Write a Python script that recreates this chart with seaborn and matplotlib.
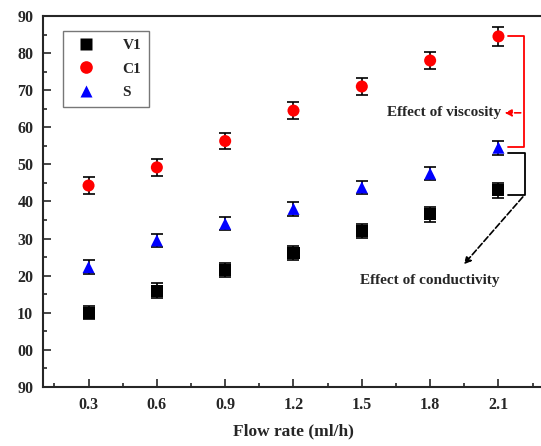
import numpy as np
import pandas as pd
import matplotlib
matplotlib.use("Agg")
import matplotlib.pyplot as plt
import seaborn as sns

flow = [0.3, 0.6, 0.9, 1.2, 1.5, 1.8, 2.1]
v1 = [10.0, 16.0, 21.5, 26.0, 32.0, 36.5, 43.0]
c1 = [44.3, 49.2, 56.3, 64.5, 71.0, 78.0, 84.5]
s = [22.3, 29.5, 34.0, 38.0, 43.8, 47.5, 54.5]
v1_err = [1.7, 1.9, 1.9, 1.9, 1.9, 1.9, 2.1]
c1_err = [2.2, 2.2, 2.2, 2.3, 2.3, 2.4, 2.5]
s_err = [1.8, 1.8, 1.8, 1.8, 1.8, 1.8, 1.9]
ytick_vals = [-10, 0, 10, 20, 30, 40, 50, 60, 70, 80, 90]
ytick_labels = ["90", "00", "10", "20", "30", "40", "50", "60", "70", "80", "90"]
xtick_labels = ["0.3", "0.6", "0.9", "1.2", "1.5", "1.8", "2.1"]

sns.set_style("ticks")
plt.rcParams['font.family'] = ['Liberation Serif', 'DejaVu Serif']
plt.rcParams['font.weight'] = 'bold'

df = pd.DataFrame({
    'flow': flow * 3,
    'val': v1 + c1 + s,
    'err': v1_err + c1_err + s_err,
    'series': ['V1'] * 7 + ['C1'] * 7 + ['S'] * 7,
})

fig = plt.figure(figsize=(5.41, 4.46), dpi=100)
ax = fig.add_axes([43 / 541, 1 - 387 / 446, (544 - 43) / 541, (387 - 16) / 446])

ax.errorbar(df['flow'], df['val'], yerr=df['err'], fmt='none', ecolor='black',
            elinewidth=1.2, capsize=4, capthick=1.2, zorder=2)
sns.scatterplot(data=df, x='flow', y='val', hue='series', style='series',
                palette={'V1': 'black', 'C1': 'red', 'S': 'blue'},
                markers={'V1': 's', 'C1': 'o', 'S': '^'},
                s=75, edgecolor='none', ax=ax, zorder=3)

ax.set_xlim(0.1, 2.3)
ax.set_ylim(-10, 90)
ax.set_xticks(flow)
ax.set_xticklabels(xtick_labels)
ax.set_xticks(np.arange(0.15, 2.3, 0.3), minor=True)
ax.set_yticks(ytick_vals)
ax.set_yticklabels(ytick_labels)
ax.set_yticks(np.arange(-5, 90, 10), minor=True)
ax.tick_params(axis='both', which='major', direction='in', length=6, width=1.2,
               labelsize=11.5, pad=7)
ax.tick_params(axis='both', which='minor', direction='in', length=3, width=1.2)
for lab in ax.get_xticklabels() + ax.get_yticklabels():
    lab.set_fontweight('bold')
for sp in ax.spines.values():
    sp.set_linewidth(1.5)
ax.set_xlabel('Flow rate (ml/h)', fontsize=12.5, fontweight='bold', labelpad=8)
ax.set_ylabel('')

leg = ax.legend(loc='upper left', bbox_to_anchor=(0.04, 0.96), borderaxespad=0,
                frameon=True, fancybox=False, edgecolor='#555555',
                prop={'weight': 'bold', 'size': 11},
                handletextpad=1.4, borderpad=0.5, labelspacing=0.65, markerscale=1.05)
leg.get_frame().set_linewidth(1.0)

# red bracket: viscosity
bx = 2.21
ax.plot([2.14, bx, bx, 2.14], [84.5, 84.5, 54.6, 54.6], color='red', lw=1.3, zorder=1)
ax.annotate('', xy=(2.115, 63.9), xytext=(bx, 63.9),
            arrowprops=dict(arrowstyle='-|>', color='red', ls='--', lw=1.2))
ax.text(2.11, 63.9, 'Effect of viscosity', ha='right', va='center', fontsize=11,
        fontweight='bold')

# black bracket: conductivity
bx2 = 2.215
ax.plot([2.14, bx2, bx2, 2.14], [53.2, 53.2, 41.8, 41.8], color='black', lw=1.3, zorder=1)
ax.annotate('', xy=(1.94, 22.5), xytext=(bx2, 41.8),
            arrowprops=dict(arrowstyle='-|>', color='black', ls='--', lw=1.2))
ax.text(1.8, 18.8, 'Effect of conductivity', ha='center', va='center', fontsize=11,
        fontweight='bold')

plt.savefig('out.png', dpi=100)
plt.close()
